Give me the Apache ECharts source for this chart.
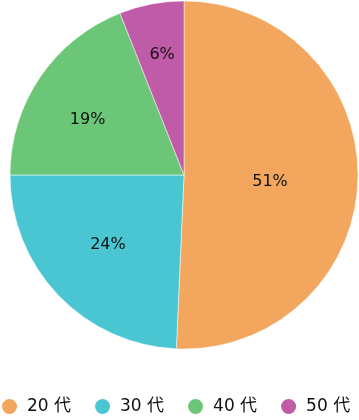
<!DOCTYPE html>
<html><head><meta charset="utf-8">
<script src="https://cdn.jsdelivr.net/npm/echarts@6/dist/echarts.min.js"></script>
<style>html,body{margin:0;padding:0;background:#fff}#c{width:359px;height:420px}</style>
</head><body><div id="c"></div>
<script>
const categories = ['20 代', '30 代', '40 代', '50 代'];
const values = [50.7, 24.3, 19.0, 6.0];
const colors = ['#F2A65E', '#4AC6D2', '#6CC677', '#C05BA8'];
const labelShift = [[-4, 5], [-11, 8], [-22, -5], [-5, -32]];
const FONT = '"DejaVu Sans", "Noto Sans CJK JP", sans-serif';
const chart = echarts.init(document.getElementById('c'));
chart.setOption({
  animation: false,
  color: colors,
  legend: {
    top: 397, left: 0, padding: 0,
    icon: 'circle', itemWidth: 17, itemHeight: 17, itemGap: 22,
    textStyle: {fontSize: 17, color: '#111', fontFamily: FONT, padding: [0, 0, 0, 4]},
    data: categories
  },
  series: [{
    type: 'pie',
    center: [184, 175], radius: [0, 174],
    startAngle: 90, clockwise: true,
    itemStyle: {borderColor: '#fff', borderWidth: 0.5},
    label: {position: 'inside', fontSize: 16, color: '#111', fontFamily: FONT,
      formatter: p => Math.round(p.percent) + '%'},
    labelLine: {show: false},
    labelLayout: p => ({dx: labelShift[p.dataIndex][0], dy: labelShift[p.dataIndex][1]}),
    data: categories.map((n, i) => ({name: n, value: values[i]}))
  }]
});
</script></body></html>
